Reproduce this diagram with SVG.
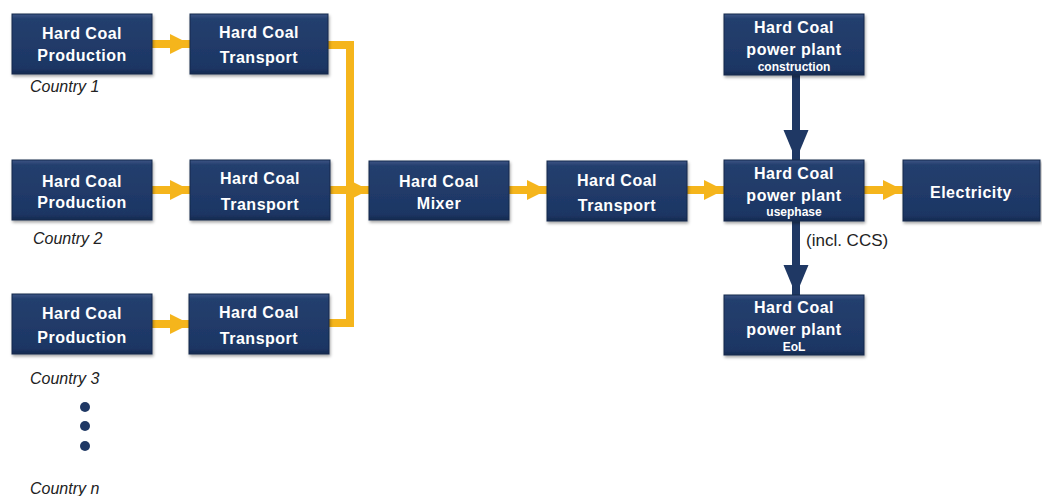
<svg xmlns="http://www.w3.org/2000/svg" width="1042" height="496" viewBox="0 0 1042 496">
<defs>
<linearGradient id="g" x1="0" y1="0" x2="0" y2="1">
<stop offset="0" stop-color="#3d5685"/>
<stop offset="0.08" stop-color="#243f6e"/>
<stop offset="0.9" stop-color="#1d3664"/>
<stop offset="1" stop-color="#152a50"/>
</linearGradient>
<filter id="sh" x="-10%" y="-10%" width="120%" height="130%">
<feDropShadow dx="1" dy="2" stdDeviation="1.5" flood-color="#000" flood-opacity="0.35"/>
</filter>
<marker id="ya" viewBox="0 0 10 10" refX="10" refY="5" markerWidth="2.5" markerHeight="2.6" markerUnits="strokeWidth" orient="auto">
<path d="M0,0 L10,5 L0,10 z" fill="#f5b51c"/>
</marker>
<marker id="na" viewBox="0 0 12 10" refX="12" refY="5" markerWidth="3.8" markerHeight="3.3" markerUnits="strokeWidth" orient="auto">
<path d="M0,0 L12,5 L0,10 z" fill="#1f3864"/>
</marker>
</defs>
<style>
.box{fill:url(#g);stroke:#14284c;stroke-width:1;filter:url(#sh)}
.t{font-family:"Liberation Sans",Arial,sans-serif;font-weight:bold;font-size:16px;fill:#fff;text-anchor:middle;letter-spacing:0.5px}
.s{font-size:12px;letter-spacing:0}
.c{font-family:"Liberation Sans",Arial,sans-serif;font-style:italic;font-size:16px;fill:#222}
.y{fill:none;stroke:#f5b51c;stroke-width:8}
.n{fill:none;stroke:#1f3864;stroke-width:8}
</style>
<rect width="1042" height="496" fill="#fff"/>
<g id="connectors">
<path class="y" d="M152,44 H190" marker-end="url(#ya)"/>
<path class="y" d="M152,190 H190" marker-end="url(#ya)"/>
<path class="y" d="M152,324 H190" marker-end="url(#ya)"/>
<path class="y" d="M328,45 H350 V323 H329"/>
<path class="y" d="M330,190 H369" marker-end="url(#ya)"/>
<path class="y" d="M509,190 H547" marker-end="url(#ya)"/>
<path class="y" d="M687,190 H724" marker-end="url(#ya)"/>
<path class="y" d="M864,190 H903" marker-end="url(#ya)"/>
<path class="n" d="M796,75 V160" marker-end="url(#na)"/>
<path class="n" d="M796,221 V295" marker-end="url(#na)"/>
</g>
<g id="prod1"><rect class="box" x="12" y="14" width="140" height="60"/><text class="t" x="82" y="39">Hard Coal</text><text class="t" x="82" y="61">Production</text></g>
<g id="trans1"><rect class="box" x="190" y="14" width="138" height="60"/><text class="t" x="259" y="38">Hard Coal</text><text class="t" x="259" y="63">Transport</text></g>
<g id="prod2"><rect class="box" x="12" y="160" width="140" height="60"/><text class="t" x="82" y="187">Hard Coal</text><text class="t" x="82" y="208">Production</text></g>
<g id="trans2"><rect class="box" x="190" y="160" width="140" height="60"/><text class="t" x="260" y="184">Hard Coal</text><text class="t" x="260" y="210">Transport</text></g>
<g id="prod3"><rect class="box" x="12" y="294" width="140" height="60"/><text class="t" x="82" y="319">Hard Coal</text><text class="t" x="82" y="343">Production</text></g>
<g id="trans3"><rect class="box" x="189" y="294" width="140" height="60"/><text class="t" x="259" y="318">Hard Coal</text><text class="t" x="259" y="344">Transport</text></g>
<g id="mixer"><rect class="box" x="369" y="161" width="140" height="59"/><text class="t" x="439" y="187">Hard Coal</text><text class="t" x="439" y="209">Mixer</text></g>
<g id="trans4"><rect class="box" x="547" y="161" width="140" height="60"/><text class="t" x="617" y="186">Hard Coal</text><text class="t" x="617" y="211">Transport</text></g>
<g id="construction"><rect class="box" x="724" y="14" width="140" height="61"/><text class="t" x="794" y="33">Hard Coal</text><text class="t" x="794" y="55">power plant</text><text class="t s" x="794" y="71">construction</text></g>
<g id="usephase"><rect class="box" x="724" y="160" width="140" height="61"/><text class="t" x="794" y="179">Hard Coal</text><text class="t" x="794" y="201">power plant</text><text class="t s" x="794" y="216">usephase</text></g>
<g id="eol"><rect class="box" x="724" y="295" width="140" height="60"/><text class="t" x="794" y="313">Hard Coal</text><text class="t" x="794" y="335">power plant</text><text class="t s" x="794" y="351">EoL</text></g>
<g id="electricity"><rect class="box" x="903" y="160" width="137" height="61"/><text class="t" x="971" y="198">Electricity</text></g>
<g id="labels">
<text class="c" x="30" y="92">Country 1</text>
<text class="c" x="33" y="244">Country 2</text>
<text class="c" x="30" y="384">Country 3</text>
<text class="c" x="30" y="494">Country n</text>
<text x="806" y="246" font-family="'Liberation Sans',Arial,sans-serif" font-size="17" fill="#222">(incl. CCS)</text>
<circle cx="85" cy="407" r="5" fill="#1f3864"/>
<circle cx="85" cy="426" r="5" fill="#1f3864"/>
<circle cx="85" cy="446" r="5" fill="#1f3864"/>
</g>
</svg>
